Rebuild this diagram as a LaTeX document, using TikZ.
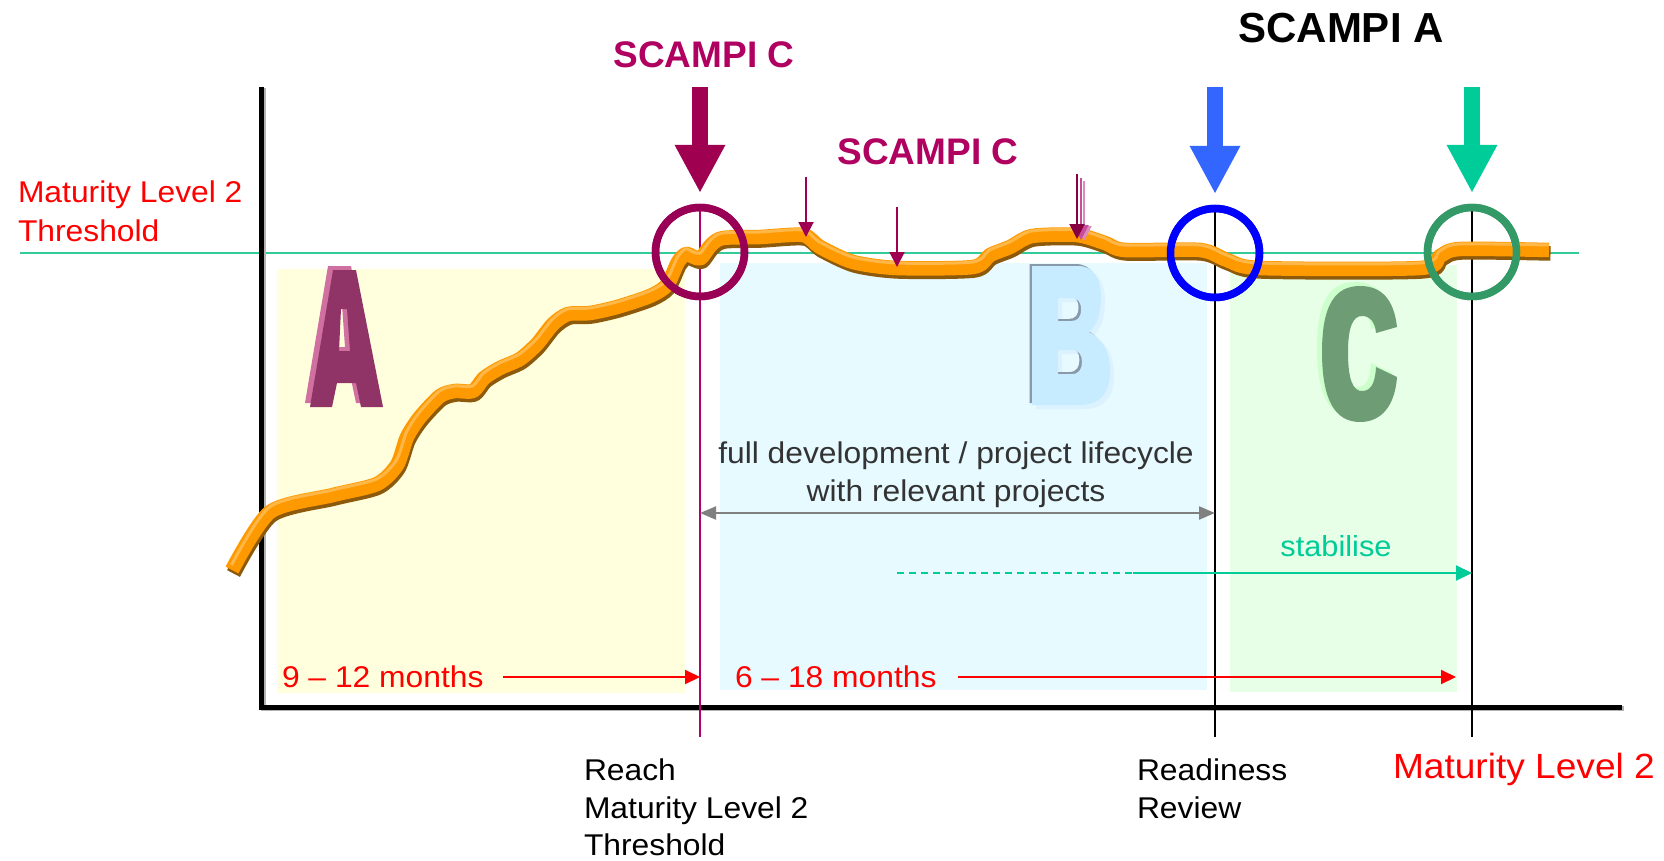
\documentclass[tikz,border=0pt]{standalone}
\usepackage{fontspec}
\setmainfont{Liberation Sans}
\newfontfamily\widesans{Liberation Sans}[FakeStretch=1.06]
\usetikzlibrary{arrows.meta}

\definecolor{plum}{HTML}{A00050}
\definecolor{plumtext}{HTML}{B00060}
\definecolor{plumring}{HTML}{990055}
\definecolor{plumline}{HTML}{B0006A}
\definecolor{ringblue}{HTML}{0000FF}
\definecolor{arrowblue}{HTML}{3366FF}
\definecolor{ringgreen}{HTML}{339966}
\definecolor{arrowgreen}{HTML}{00CC99}
\definecolor{thrline}{HTML}{33CC99}
\definecolor{curve}{HTML}{FF9900}
\definecolor{curveshade}{HTML}{8C5A0A}
\definecolor{curvelight}{HTML}{FFB748}
\definecolor{zoneA}{HTML}{FFFFDE}
\definecolor{zoneB}{HTML}{E6FAFF}
\definecolor{zoneC}{HTML}{E6FFE6}
\definecolor{letA}{HTML}{903468}
\definecolor{letAshade}{HTML}{D070A0}
\definecolor{letB}{HTML}{C8ECFF}
\definecolor{letBedge}{HTML}{8899AA}
\definecolor{letBglow}{HTML}{DDF2FF}
\definecolor{letC}{HTML}{6E9C74}
\definecolor{letCshade}{HTML}{CCFFCC}
\definecolor{darktext}{HTML}{333333}

% phase letters drawn as outlines
\newcommand\glyphA[1]{\fill[#1,even odd rule]
  (333,270) -- (356,270) -- (383,407) -- (361,407) -- (356,383) -- (337,383)
  -- (332,407) -- (310,407) -- cycle
  (341,309) -- (347,309) -- (350,351) -- (339,351) -- cycle;}
\newcommand\glyphB[1]{\fill[#1,even odd rule]
  (1032,266) -- (1078,266) .. controls (1094,266) and (1101,279) .. (1101,298)
  .. controls (1101,314) and (1097,325) .. (1089,332)
  .. controls (1103,339) and (1110,352) .. (1110,372)
  .. controls (1110,394) and (1099,405) .. (1080,405) -- (1032,405) -- cycle
  (1058,298) -- (1071,298) .. controls (1078,298) and (1081,302) .. (1081,309.5)
  .. controls (1081,317) and (1078,321) .. (1071,321) -- (1058,321) -- cycle
  (1058,350) -- (1072,350) .. controls (1079,350) and (1082,355) .. (1082,362)
  .. controls (1082,369) and (1079,374) .. (1072,374) -- (1058,374) -- cycle;}
\newcommand\glyphC[1]{\fill[#1]
  (1397,327) .. controls (1394,300) and (1382,286) .. (1360,286)
  .. controls (1335,286) and (1322,305) .. (1322,352)
  .. controls (1322,400) and (1335,422) .. (1360,422)
  .. controls (1382,422) and (1395,405) .. (1397,377) -- (1376,367)
  .. controls (1375,385) and (1370,391) .. (1362,391)
  .. controls (1353,391) and (1348,380) .. (1348,352)
  .. controls (1348,327) and (1353,316) .. (1362,316)
  .. controls (1370,316) and (1375,322) .. (1376,333) -- cycle;}
% maturity trend line
\newcommand\trend[1]{\draw[#1] plot[smooth, tension=0.45] coordinates {
  (232,570) (270,512) (333,495) (377,484) (397,465) (407,437) (420,417)
  (440,396) (455,391) (473,391) (484,378) (500,368) (520,359) (537,344)
  (553,324) (568,314) (590,313) (617,307) (650,296) (667,285) (678,262)
  (686,254) (694,257) (701,258) (711,245) (723,238) (760,237) (803,235)
  (820,247) (853,262) (897,268) (973,267) (990,255) (1010,247) (1032,236)
  (1077,235) (1105,243) (1125,250) (1200,250) (1227,260) (1260,268)
  (1420,268) (1440,256) (1460,249) (1549,250)};}

\begin{document}
\begin{tikzpicture}[x=1pt,y=-1pt,
  txt/.style={inner sep=0pt, outer sep=0pt, font=\widesans\fontsize{30}{36}\selectfont},
  head/.style={inner sep=0pt, outer sep=0pt, font=\bfseries\fontsize{37}{44}\selectfont},
  ring/.style={circle, draw, line width=7.5pt, minimum size=89pt, inner sep=0pt, outer sep=0pt},
  marker/.style={line width=1.4pt},
  bigarrow/.style={line width=16pt, -{Triangle[width=47pt,length=48pt]}},
  smallarrow/.style={line width=2pt, -{Triangle[width=15pt,length=15pt]}},
  span/.style={line width=2pt, red, -{Triangle[width=14pt,length=15pt]}},
  band/.style={line width=14.5pt, line cap=butt, line join=round}]

\useasboundingbox (0,0) rectangle (1664,861);
\fill[white] (0,0) rectangle (1664,861);

% phase zones
\fill[zoneA] (277,269) rectangle (685,693);
\fill[zoneB] (720,263) rectangle (1207,690);
\fill[zoneC] (1230,265) rectangle (1457,692);

% phase letters
\glyphA{letAshade, shift={(-5,-4)}}
\glyphA{letA}
\glyphB{letBglow, shift={(4,4)}}
\glyphB{letBedge, shift={(-2.5,-2)}}
\glyphB{letB}
\glyphC{letCshade, shift={(-5,-4)}}
\glyphC{letC}

% threshold line
\coordinate (thrL) at (20,253);
\coordinate (thrR) at (1579,253);
\draw[thrline, line width=2.5pt] (thrL) -- (thrR);

% axes
\coordinate (ytop) at (261.5,87);
\coordinate (origin) at (261.5,707);
\coordinate (xend) at (1622,707);
\draw[black!30, line width=5pt, line join=miter]
  ([xshift=1.5pt,yshift=-1.5pt]ytop) -- ([xshift=1.5pt,yshift=-1.5pt]origin) -- ([xshift=1.5pt,yshift=-1.5pt]xend);
\draw[black, line width=5pt, line join=miter] (ytop) -- (origin) -- (xend);

% review rings
\node[ring, draw=plumring] (c1) at (700,252) {};
\node[ring, draw=ringblue] (c2) at (1215,253) {};
\node[ring, draw=ringgreen] (c3) at (1472,252) {};

% milestone markers
\coordinate (m1b) at (700,737);
\coordinate (m2b) at (1215,737);
\coordinate (m3b) at (1472,737);
\draw[marker, plumline] (c1.north) -- (m1b);
\draw[marker, black] (c2.north) -- (m2b);
\draw[marker, black] (c3.north) -- (m3b);

% trend line with shading
\trend{band, curveshade, shift={(1.5,3.5)}}
\trend{band, curve}
\trend{line width=3pt, curvelight, shift={(-0.5,-5)}}

% rings again on top of the trend line
\node[ring, draw=plumring] at (c1) {};
\node[ring, draw=ringblue] at (c2) {};
\node[ring, draw=ringgreen] at (c3) {};

% appraisal arrows
\coordinate (a1) at (700,87);
\coordinate (a2) at (1215,87);
\coordinate (a3) at (1472,87);
\draw[bigarrow, plum] (a1) -- ([yshift=14.5pt]c1.north);
\draw[bigarrow, arrowblue] (a2) -- ([yshift=14.5pt]c2.north);
\draw[bigarrow, arrowgreen] (a3) -- ([yshift=14.5pt]c3.north);

\coordinate (k1) at (806,177);  \coordinate (k1e) at (806,237);
\coordinate (k2) at (897,207);  \coordinate (k2e) at (897,267);
\coordinate (k3) at (1077,174); \coordinate (k3e) at (1077,239);
\coordinate (k4) at (1081,178); \coordinate (k4e) at (1081,240);
\coordinate (k5) at (1084,181); \coordinate (k5e) at (1084,241);
\draw[smallarrow, plum] (k1) -- (k1e);
\draw[smallarrow, plum] (k2) -- (k2e);
\draw[smallarrow, plumline!45] (k5) -- (k5e);
\draw[smallarrow, plumline!70] (k4) -- (k4e);
\draw[smallarrow, plum!85!black] (k3) -- (k3e);

% labels
\node[head, plumtext, anchor=base] (sc1) at (704,68) {SCAMPI C};
\node[head, plumtext, anchor=base] (sc2) at (928,165) {SCAMPI C};
\node[head, font=\bfseries\fontsize{42}{50}\selectfont, anchor=base] (sa) at (1341,43) {SCAMPI A};

\node[txt, red, anchor=base west] (thr1) at (18,203) {Maturity Level 2};
\node[txt, red, anchor=base west] (thr2) at (18,241) {Threshold};

\node[txt, darktext, anchor=base] (dev1) at (956,463) {full development / project lifecycle};
\node[txt, darktext, anchor=base] (dev2) at (956,501) {with relevant projects};
\coordinate (devL) at (c1 |- 0,513);
\coordinate (devR) at (c2 |- 0,513);
\draw[line width=2pt, gray, {Triangle[width=13pt,length=16pt]}-{Triangle[width=13pt,length=16pt]}] (devL) -- (devR);

\node[txt, font=\widesans\fontsize{29}{35}\selectfont, arrowgreen, anchor=base] (stab) at (1336,556) {stabilise};
\coordinate (st0) at (897,573);
\coordinate (st1) at (1133,573);
\draw[arrowgreen, line width=2pt, dash pattern=on 7pt off 5pt] (st0) -- (st1);
\draw[arrowgreen, line width=2pt, -{Triangle[width=15pt,length=16pt]}] (st1) -- (c3 |- st1);

\node[txt, red, anchor=base west] (mo1) at (282,687) {9 – 12 months};
\node[txt, red, anchor=base west] (mo2) at (735,687) {6 – 18 months};
\coordinate (s1) at (503,677);
\coordinate (s2) at (958,677);
\coordinate (s2e) at (1456,677);
\draw[span] (s1) -- (c1 |- s1);
\draw[span] (s2) -- (s2e);

\node[txt, anchor=base west] (rc1) at (584,780) {Reach};
\node[txt, anchor=base west] (rc2) at (584,818) {Maturity Level 2};
\node[txt, anchor=base west] (rc3) at (584,855) {Threshold};
\node[txt, anchor=base west] (rr1) at (1137,780) {Readiness};
\node[txt, anchor=base west] (rr2) at (1137,818) {Review};
\node[txt, font=\widesans\fontsize{35}{42}\selectfont, red, anchor=base west] (ml2) at (1393,778) {Maturity Level 2};
\end{tikzpicture}
\end{document}
